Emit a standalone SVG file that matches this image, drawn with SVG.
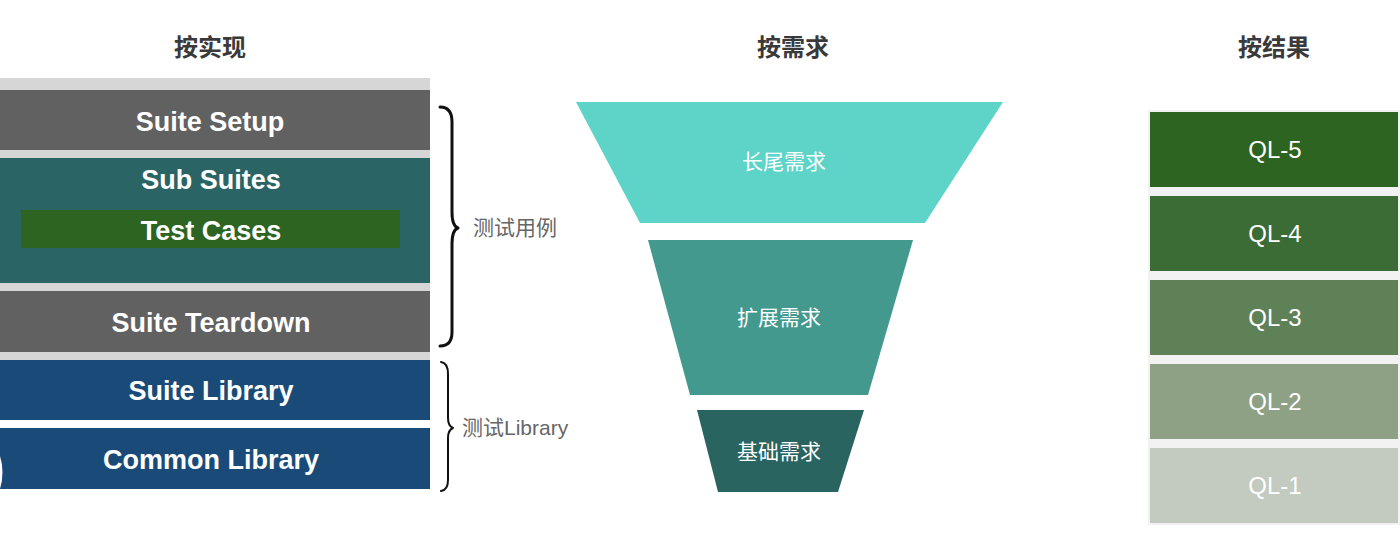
<svg xmlns="http://www.w3.org/2000/svg" width="1400" height="537" viewBox="0 0 1400 537">
<style>
.hdr{font-family:"Noto Sans CJK SC","Liberation Sans",sans-serif;font-size:24px;font-weight:bold;fill:#3a3a3a;text-anchor:middle}
.lbl{font-family:"Liberation Sans",Arial,sans-serif;font-size:27px;font-weight:bold;fill:#fff;text-anchor:middle}
.fn{font-family:"Noto Sans CJK SC","Liberation Sans",sans-serif;font-size:21px;fill:#fff;text-anchor:middle}
.ql{font-family:"Liberation Sans",Arial,sans-serif;font-size:24px;fill:#fff;text-anchor:middle}
.note{font-family:"Liberation Sans","Noto Sans CJK SC",sans-serif;font-size:21px;fill:#666}
.brace{fill:none;stroke:#111;stroke-linecap:round;stroke-linejoin:round}
</style>
<rect width="1400" height="537" fill="#fff"/>
<g id="headers">
<text class="hdr" x="210" y="56">按实现</text>
<text class="hdr" x="793" y="56">按需求</text>
<text class="hdr" x="1274" y="56">按结果</text>
</g>
<g id="stack">
<rect x="0" y="78" width="430" height="213" fill="#d6d6d6"/>
<g id="suite-setup"><rect x="0" y="90" width="430" height="60" fill="#616161"/><text class="lbl" x="210" y="131">Suite Setup</text></g>
<g id="sub-suites"><rect x="0" y="158" width="430" height="125" fill="#2a6464"/><text class="lbl" x="211" y="189">Sub Suites</text></g>
<g id="test-cases"><rect x="21" y="210" width="379" height="38" fill="#2e6421"/><text class="lbl" x="211" y="240">Test Cases</text></g>
<rect x="0" y="291" width="430" height="70" fill="#d6d6d6"/>
<g id="suite-teardown"><rect x="0" y="291" width="430" height="61" fill="#616161"/><text class="lbl" x="211" y="332">Suite Teardown</text></g>
<g id="suite-library"><rect x="0" y="360" width="430" height="60" fill="#1a4b78"/><text class="lbl" x="211" y="400">Suite Library</text></g>
<g id="common-library"><rect x="0" y="428" width="430" height="61" fill="#1a4b78"/><text class="lbl" x="211" y="469">Common Library</text>
<path d="M0 456 Q5 472 0 489 Z" fill="#fff"/></g>
</g>
<g id="connectors">
<path class="brace" stroke-width="3" d="M440 107 Q452 107 452 122 L452 212 Q452 226 458 228 Q452 230 452 244 L452 332 Q452 346 440 346"/>
<path class="brace" stroke-width="2" d="M441 362 Q448 363 448 374 L448 418 Q448 426 453 428 Q448 430 448 438 L448 480 Q448 490 441 491"/>
</g>
<g id="brace-labels">
<text class="note" x="473" y="235">测试用例</text>
<text class="note" x="462" y="435">测试Library</text>
</g>
<g id="funnel">
<g id="long-tail"><polygon points="576,102 1003,102 925,223 640,223" fill="#5ed4c9"/><text class="fn" x="784" y="169">长尾需求</text></g>
<g id="extended"><polygon points="648,240 913,240 868,395 690,395" fill="#44998e"/><text class="fn" x="779" y="325">扩展需求</text></g>
<g id="basic"><polygon points="697,410 864,410 838,492 718,492" fill="#2a6461"/><text class="fn" x="779" y="459">基础需求</text></g>
</g>
<g id="results">
<rect x="1148" y="110" width="252" height="415" fill="#f2f2f2"/>
<g id="ql5"><rect x="1150" y="112" width="248" height="75" fill="#2e6421"/><text class="ql" x="1275" y="158">QL-5</text></g>
<g id="ql4"><rect x="1150" y="196" width="248" height="75" fill="#3c6c35"/><text class="ql" x="1275" y="242">QL-4</text></g>
<g id="ql3"><rect x="1150" y="280" width="248" height="75" fill="#5f8158"/><text class="ql" x="1275" y="326">QL-3</text></g>
<g id="ql2"><rect x="1150" y="364" width="248" height="75" fill="#8ea185"/><text class="ql" x="1275" y="410">QL-2</text></g>
<g id="ql1"><rect x="1150" y="448" width="248" height="75" fill="#c3cbc0"/><text class="ql" x="1275" y="494">QL-1</text></g>
</g>
</svg>
